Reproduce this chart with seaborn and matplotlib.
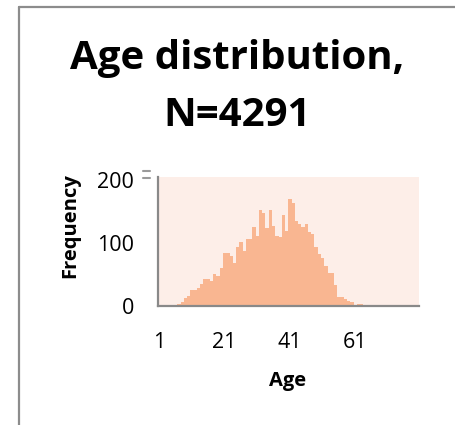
import matplotlib
matplotlib.use("Agg")
import matplotlib.pyplot as plt
from matplotlib.lines import Line2D
import seaborn as sns
import pandas as pd

# ---- data ----
ages = [str(a) for a in range(1, 81)]
counts = [0, 0, 0, 0,
          1, 2, 3, 7, 12, 16,
          25, 25, 28, 35, 43, 43, 39, 51, 48, 61,
          84, 84, 79, 69, 93, 102, 87, 106, 107, 125,
          111, 153, 148, 124, 152, 127, 111, 109, 144, 119,
          170, 163, 135, 130, 125, 130, 118, 115, 93, 83,
          77, 64, 53, 53, 34, 15, 15, 11, 8, 6,
          2, 3, 3, 1, 2, 1, 1, 1, 0, 1,
          0, 2, 0, 0, 0, 0, 0, 0, 0, 0]
x_tick_labels = ["1", "21", "41", "61"]
y_ticks = [0, 100, 200]
title_lines = ["Age distribution,", "N=4291"]
x_label = "Age"
y_label = "Frequency"

df = pd.DataFrame({"Age": ages, "Frequency": counts})

sns.set_theme(style="white")
plt.rcParams['font.family'] = ['Open Sans', 'DejaVu Sans']
plt.rcParams['text.color'] = 'black'
plt.rcParams['xtick.color'] = 'black'
plt.rcParams['ytick.color'] = 'black'

W, H = 456, 425
fig = plt.figure(figsize=(W / 100, H / 100), dpi=100)
fig.patch.set_facecolor("white")

ax = fig.add_axes([157.7 / W, 1 - 306 / H, (419 - 157.7) / W, (306 - 177) / H])
ax.set_facecolor("#FDEEE8")

sns.barplot(data=df, x="Age", y="Frequency", color="#F9B691", saturation=1,
            width=1.0, linewidth=0, ax=ax, order=ages)

ax.set_xlim(-0.5, len(ages) - 0.5)
ax.set_ylim(0, 205)
tick_pos = [ages.index(t) for t in x_tick_labels]
ax.set_xticks(tick_pos)
ax.set_xticklabels(x_tick_labels)
ax.set_yticks(y_ticks)
ax.set_yticklabels([str(v) for v in y_ticks])
ax.tick_params(axis="both", length=0, labelsize=15.5, labelcolor="black")
ax.tick_params(axis="x", pad=19)
ax.tick_params(axis="y", pad=17)
ax.set_xlabel("")
ax.set_ylabel("")

for s in ["top", "right"]:
    ax.spines[s].set_visible(False)
for s in ["left", "bottom"]:
    ax.spines[s].set_visible(True)
    ax.spines[s].set_color("#898989")
    ax.spines[s].set_linewidth(1.6)

# axis titles
fig.text(288 / W, 1 - 381 / H, x_label, ha="center", va="center",
         fontsize=14.5, fontweight="bold", color="black")
fig.text(70 / W, 1 - 226 / H, y_label, ha="center", va="center",
         fontsize=14.5, fontweight="bold", rotation=90, color="black")

# chart title
fig.text(237 / W, 1 - 58 / H, title_lines[0], ha="center", va="center",
         fontsize=29, fontweight="bold", color="black")
fig.text(237 / W, 1 - 116 / H, title_lines[1], ha="center", va="center",
         fontsize=29, fontweight="bold", color="black")

# small marks near the top of the value axis
for yy in (171, 178):
    fig.add_artist(Line2D([143 / W, 150 / W], [1 - yy / H, 1 - yy / H],
                          transform=fig.transFigure, color="#9A9A9A", linewidth=1.5))

# chart border (left and top edges visible)
bx, by = 19 / W, 1 - 7 / H
fig.add_artist(Line2D([bx, bx], [0, by], transform=fig.transFigure,
                      color="#8C8C8C", linewidth=1.6))
fig.add_artist(Line2D([bx, 1], [by, by], transform=fig.transFigure,
                      color="#8C8C8C", linewidth=1.6))

fig.savefig("out.png", dpi=100, facecolor="white")
